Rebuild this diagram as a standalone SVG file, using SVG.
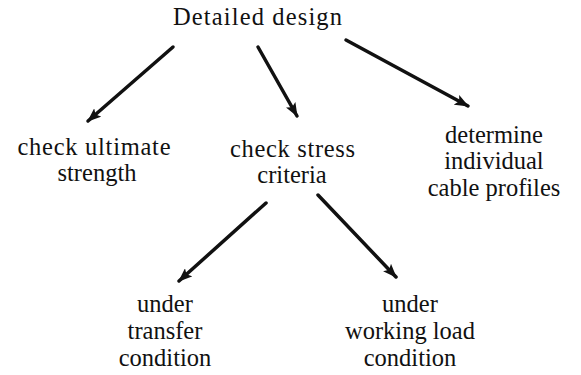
<svg xmlns="http://www.w3.org/2000/svg" width="581" height="375" viewBox="0 0 581 375">
  <style>
    .lbl { font-family: "Liberation Serif", "Times New Roman", serif; font-size: 24.5px; fill: #111; text-anchor: middle; }
    .arrow { stroke: #111; stroke-width: 3.5; fill: none; stroke-linecap: round; marker-end: url(#head); }
  </style>
  <defs>
    <marker id="head" viewBox="0 0 14 11" refX="13" refY="5.5" markerWidth="14" markerHeight="11" markerUnits="userSpaceOnUse" orient="auto">
      <path d="M0,0 L14,5.5 L0,11 L3,5.5 Z" fill="#111"/>
    </marker>
  </defs>
  <rect width="581" height="375" fill="#fff"/>

  <g id="connectors">
    <line class="arrow" x1="173" y1="47" x2="88" y2="121"/>
    <line class="arrow" x1="258" y1="47" x2="297" y2="116"/>
    <line class="arrow" x1="346" y1="40" x2="468" y2="106"/>
    <line class="arrow" x1="266" y1="203" x2="179" y2="281"/>
    <line class="arrow" x1="318" y1="195" x2="396" y2="277"/>
  </g>

  <g id="detailed-design">
    <text class="lbl" x="257.5" y="25" textLength="169">Detailed design</text>
  </g>
  <g id="check-ultimate-strength">
    <text class="lbl" x="94" y="155" textLength="153">check ultimate</text>
    <text class="lbl" x="97" y="181">strength</text>
  </g>
  <g id="check-stress-criteria">
    <text class="lbl" x="292.5" y="157" textLength="125">check stress</text>
    <text class="lbl" x="292" y="183">criteria</text>
  </g>
  <g id="cable-profiles">
    <text class="lbl" x="494" y="143">determine</text>
    <text class="lbl" x="494" y="169">individual</text>
    <text class="lbl" x="494" y="196">cable profiles</text>
  </g>
  <g id="transfer-condition">
    <text class="lbl" x="165" y="312">under</text>
    <text class="lbl" x="165" y="339">transfer</text>
    <text class="lbl" x="165" y="366">condition</text>
  </g>
  <g id="working-load-condition">
    <text class="lbl" x="410" y="312">under</text>
    <text class="lbl" x="410" y="339">working load</text>
    <text class="lbl" x="410" y="366">condition</text>
  </g>
</svg>
